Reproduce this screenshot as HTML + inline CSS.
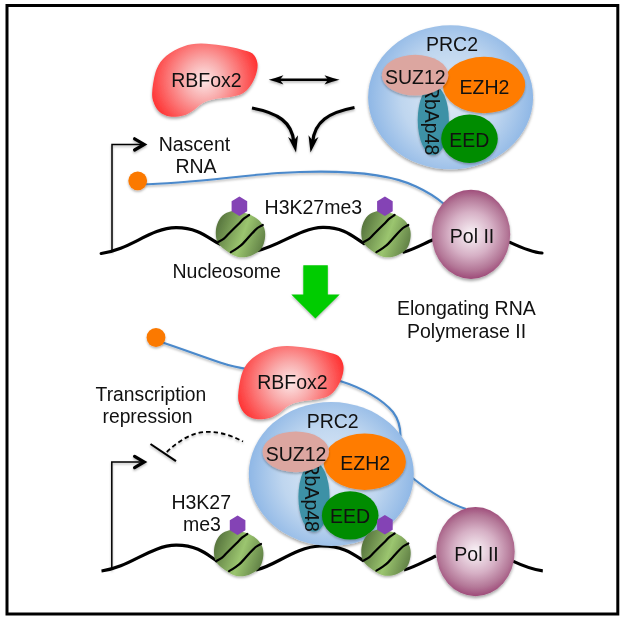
<!DOCTYPE html>
<html><head><meta charset="utf-8">
<style>
html,body{margin:0;padding:0;background:#fff;width:625px;height:620px;overflow:hidden}
svg{display:block;will-change:transform}
text{font-family:"Liberation Sans",sans-serif;font-size:19.5px;fill:#111}
</style></head><body>
<svg width="625" height="620" viewBox="0 0 625 620">
<defs>
  <filter id="sh" x="-30%" y="-30%" width="160%" height="160%">
    <feDropShadow dx="0" dy="2" stdDeviation="1.8" flood-color="#000" flood-opacity="0.35"/>
  </filter>
  <filter id="shs" x="-30%" y="-30%" width="160%" height="160%">
    <feDropShadow dx="0" dy="1.5" stdDeviation="1.2" flood-color="#000" flood-opacity="0.3"/>
  </filter>
  <radialGradient id="gRB" gradientUnits="userSpaceOnUse" cx="204" cy="80" r="58">
    <stop offset="0" stop-color="#fce8e8"/>
    <stop offset="0.35" stop-color="#f9abab"/>
    <stop offset="1" stop-color="#ff2a2a"/>
  </radialGradient>
  <radialGradient id="gPRC" gradientUnits="userSpaceOnUse" cx="450.6" cy="97.3" r="82">
    <stop offset="0" stop-color="#e0ebf7"/>
    <stop offset="0.6" stop-color="#bfd6ef"/>
    <stop offset="1" stop-color="#90b8e6"/>
  </radialGradient>
  <radialGradient id="gPol" gradientUnits="userSpaceOnUse" cx="471" cy="234" r="44">
    <stop offset="0" stop-color="#faf4f8"/>
    <stop offset="0.5" stop-color="#d6b0c5"/>
    <stop offset="0.82" stop-color="#b47898"/>
    <stop offset="1" stop-color="#a04f7c"/>
  </radialGradient>
  <linearGradient id="gNuc" gradientUnits="userSpaceOnUse" x1="-25" y1="-9" x2="25" y2="9">
    <stop offset="0" stop-color="#55723c"/>
    <stop offset="0.55" stop-color="#9bc56f"/>
    <stop offset="1" stop-color="#5e7d44"/>
  </linearGradient>

  <g id="nuc">
    <path d="M-24.7,-0.5 C-24.8,-3.5 -24.4,-7.1 -23.3,-10.1 C-22.2,-13.1 -20.3,-16.5 -18.0,-18.7 C-15.7,-20.9 -12.1,-22.5 -9.4,-23.1 C-6.7,-23.8 -4.6,-23.1 -1.7,-22.6 C1.2,-22.1 4.7,-21.5 7.9,-20.2 C11.1,-18.9 15.0,-16.9 17.5,-14.9 C20.0,-12.9 21.6,-10.6 22.8,-8.2 C24.0,-5.8 24.6,-3.4 24.7,-0.5 C24.8,2.4 24.3,6.2 23.3,9.1 C22.3,12.0 20.8,14.7 18.5,16.8 C16.2,18.9 12.7,20.6 9.8,21.6 C6.9,22.6 4.1,23.2 1.2,23.0 C-1.7,22.8 -4.6,22.0 -7.5,20.6 C-10.4,19.2 -13.6,17.0 -16.1,14.9 C-18.7,12.8 -21.4,10.7 -22.8,8.1 C-24.2,5.5 -24.6,2.5 -24.7,-0.5Z" fill="url(#gNuc)" filter="url(#shs)"/>
    <path d="M-22.6,7.9 C-21.6,7.3 -18.4,5.7 -16.6,4.3 C-14.8,2.9 -14.2,1.9 -11.8,-0.5 C-9.4,-2.9 -4.8,-7.5 -2.2,-10.1 C0.4,-12.7 1.8,-14.4 3.6,-15.9 C5.4,-17.4 7.8,-18.7 8.6,-19.3" fill="none" stroke="#000" stroke-width="2.2" stroke-linecap="round"/>
    <path d="M-9.6,17.8 C-8.5,17.2 -5.2,15.4 -3.2,13.9 C-1.2,12.4 0.2,11.5 2.6,9.1 C5.0,6.7 8.8,2.1 11.2,-0.5 C13.6,-3.1 15.2,-4.8 17.0,-6.3 C18.9,-7.8 21.4,-8.8 22.3,-9.3" fill="none" stroke="#000" stroke-width="2.2" stroke-linecap="round"/>
    <polygon points="-1.10,-37.80 6.70,-33.15 6.70,-22.95 -1.10,-18.30 -8.90,-22.95 -8.90,-33.15" fill="#8443b5"/>
  </g>

  <g id="rb">
    <path d="M152.3,90.7 C152.8,85.3 154.2,75.4 156.5,69.6 C158.8,63.8 161.6,60.0 166.1,56.1 C170.6,52.2 177.6,48.6 183.4,46.5 C189.2,44.4 194.3,43.8 200.7,43.6 C207.1,43.5 215.1,44.6 221.8,45.6 C228.5,46.6 235.9,48.1 241.0,49.4 C246.1,50.7 249.8,51.3 252.5,53.6 C255.2,55.9 256.8,59.5 257.4,63.0 C258.0,66.5 257.2,70.8 256.0,74.6 C254.8,78.4 252.6,82.9 250.3,86.1 C248.1,89.3 245.8,91.8 242.5,93.6 C239.2,95.4 235.4,96.1 230.7,97.1 C226.0,98.0 218.8,98.3 214.1,99.3 C209.4,100.3 206.1,101.3 202.6,103.2 C199.1,105.1 196.2,108.7 193.0,110.8 C189.8,112.9 187.2,114.6 183.4,115.6 C179.6,116.6 174.0,117.2 170.0,116.6 C166.0,116.0 162.1,114.2 159.4,111.8 C156.7,109.4 154.8,105.7 153.6,102.2 C152.4,98.7 151.8,96.1 152.3,90.7Z" fill="url(#gRB)" filter="url(#sh)"/>
    <text x="171.2" y="86.7">RBFox2</text>
  </g>

  <g id="prc">
    <ellipse cx="450.6" cy="97.3" rx="82.5" ry="72" fill="url(#gPRC)" filter="url(#sh)"/>
    <text x="426" y="51.1">PRC2</text>
    <ellipse cx="484" cy="85" rx="41.2" ry="28.2" fill="#ff7c00" filter="url(#shs)"/>
    <text x="459.6" y="93.5">EZH2</text>
    <ellipse cx="433.3" cy="120.1" rx="15.6" ry="35" fill="#3d91a6" filter="url(#shs)"/>
    <text transform="translate(424.5,84.8) rotate(90)">RbAp48</text>
    <ellipse cx="415.1" cy="75.15" rx="33.3" ry="20.3" fill="#dca6a0" filter="url(#shs)"/>
    <text x="385" y="83.9">SUZ12</text>
    <ellipse cx="469.5" cy="138.7" rx="28.3" ry="24.2" fill="#008c00" filter="url(#shs)"/>
    <text x="449.2" y="146.7">EED</text>
  </g>

  <g id="pol">
    <ellipse cx="471" cy="234.3" rx="39.2" ry="44.6" fill="url(#gPol)" filter="url(#sh)"/>
    <text x="449.8" y="243.3">Pol II</text>
  </g>
</defs>

<rect x="7" y="5.5" width="610.8" height="608.5" fill="none" stroke="#000" stroke-width="3"/>

<!-- ===== TOP ===== -->
<use href="#rb"/>
<!-- double arrow -->
<g filter="url(#shs)">
  <line x1="278" y1="79.8" x2="329" y2="79.8" stroke="#000" stroke-width="2.6"/>
  <path d="M268.7,79.8 Q277,77.5 283.4,75.2 L279.8,79.8 L283.4,84.4 Q277,82 268.7,79.8 Z" fill="#000"/>
  <path d="M339.6,79.8 Q331,77.5 324.5,75.2 L328,79.8 L324.5,84.4 Q331,82 339.6,79.8 Z" fill="#000"/>
</g>
<!-- curved arrows -->
<g filter="url(#shs)">
  <path d="M252,108 C278,113 292,122 293.8,142" fill="none" stroke="#000" stroke-width="3.2"/>
  <path d="M296,152.5 L288,137 Q292,139.5 293.5,141 Q296,138 298,135.3 Z" fill="#000"/>
  <path d="M354.5,107.5 C328.5,112.5 314.5,121.5 312.7,142" fill="none" stroke="#000" stroke-width="3.2"/>
  <path d="M310.5,152.5 L318.5,137 Q314.5,139.5 313,141 Q310.5,138 308.5,135.3 Z" fill="#000"/>
</g>

<use href="#prc"/>

<!-- promoter arrow 1 -->
<g filter="url(#shs)">
  <polyline points="112,252 112,144.4 143,144.4" fill="none" stroke="#000" stroke-width="1.5"/>
  <polyline points="134.6,138.8 144.2,144.4 134.6,150" fill="none" stroke="#000" stroke-width="3.2" stroke-linecap="round" stroke-linejoin="miter"/>
</g>
<text x="158.7" y="150.9">Nascent</text>
<text x="175.4" y="173.4">RNA</text>

<!-- RNA 1 -->
<path d="M140,184.3 C200,183.5 250,173 300,172 C345,170.5 390,174 416,186.5 C428,192 437,198 444,204" fill="none" stroke="#4b89cb" stroke-width="2.1" filter="url(#shs)"/>
<circle cx="137.7" cy="180.8" r="9.4" fill="#fb7900" filter="url(#shs)"/>

<!-- DNA 1 -->
<path d="M101.2,253.5 C130,250 150,228 176,227.7 C200,227.5 210,240 220,244 M258,250.5 C280,245.5 300,228 322.8,227.4 C345,227 355,238.5 364,243.5 M404,252 C415,249 425,243 433,239.8 M510,242.4 C522,248 532,252.5 542,253" fill="none" stroke="#000" stroke-width="3.2" stroke-linecap="round"/>
<use href="#nuc" x="240.5" y="234.3"/>
<use href="#nuc" x="386" y="234.3"/>
<text x="264.6" y="213.9">H3K27me3</text>
<use href="#pol"/>
<text x="172.5" y="278">Nucleosome</text>

<!-- green arrow -->
<polygon points="303.3,265.2 327.8,265.2 327.8,294.5 339.7,294.5 315.4,318.4 291.3,294.5 303.3,294.5" fill="#00cc00" filter="url(#shs)"/>

<text x="397" y="314.9">Elongating RNA</text>
<text x="407" y="337.5">Polymerase II</text>

<!-- ===== BOTTOM ===== -->
<!-- RNA 2 -->
<path d="M158,341 C178,347.5 198,355 220,362.5 C232,366.5 240,368 250,369.5 M340,381 C363,388 383,400 393,412 C399,420 400.5,428 400.5,436 M412,477.5 C430,492 448,503 466,509" fill="none" stroke="#4b89cb" stroke-width="2.1" filter="url(#shs)"/>
<circle cx="156" cy="337.5" r="9.4" fill="#fb7900" filter="url(#shs)"/>

<text x="95.6" y="401.4" style="font-size:19.3px">Transcription</text>
<text x="102.5" y="422.8" style="font-size:19.3px">repression</text>
<path d="M166.8,452 C178,441 193,431.8 207,431.8 C222,431.8 233,436.5 243,441.5" fill="none" stroke="#000" stroke-width="1.8" stroke-dasharray="4.5,3" filter="url(#shs)"/>
<line x1="150.5" y1="444" x2="176" y2="461.2" stroke="#000" stroke-width="2.1" filter="url(#shs)"/>

<g filter="url(#shs)">
  <polyline points="111.8,570 111.8,462 143,462" fill="none" stroke="#000" stroke-width="1.5"/>
  <polyline points="134.6,456.4 144.2,462 134.6,467.6" fill="none" stroke="#000" stroke-width="3.2" stroke-linecap="round"/>
</g>

<!-- DNA 2 -->
<path d="M101.5,571 C130,567.5 150,545.5 176,545.2 C200,545 210,557.5 218,561.5 M256,570 C275,566 295,547 320,546 C342,545.5 352,553 364,561 M404,570 C415,567 425,561 436,556 M510,559.9 C522,565.5 532,570 542.8,570.8" fill="none" stroke="#000" stroke-width="3.2"/>
<use href="#rb" x="86" y="302.5"/>
<use href="#prc" x="-119.3" y="376.7"/>
<use href="#nuc" x="238.7" y="553.3"/>
<use href="#nuc" x="386" y="552.8"/>
<use href="#pol" x="4.5" y="317.3"/>
<text x="171.4" y="509.1">H3K27</text>
<text x="182.9" y="531.1">me3</text>
</svg>
</body></html>
